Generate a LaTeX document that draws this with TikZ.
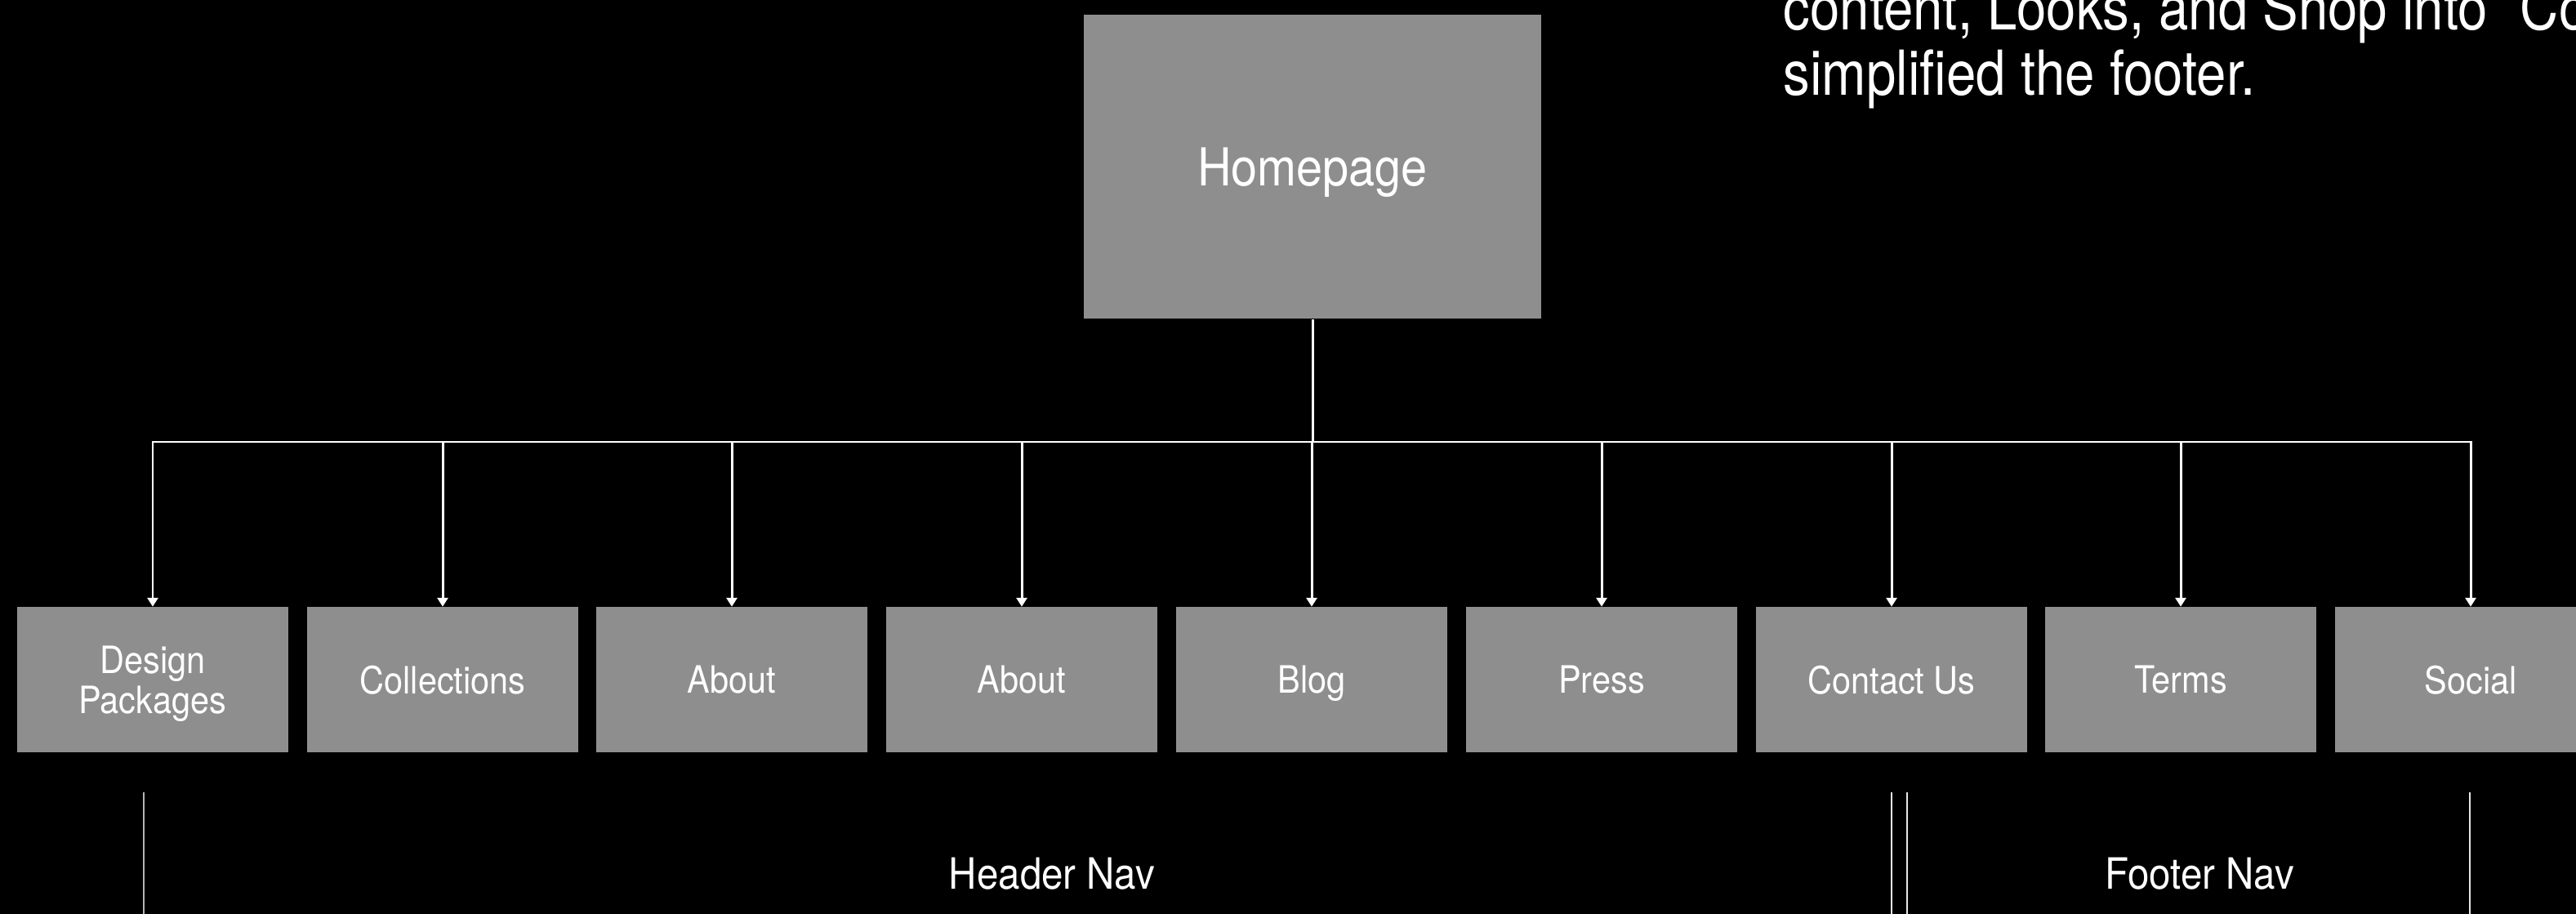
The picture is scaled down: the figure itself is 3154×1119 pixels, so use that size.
\documentclass[tikz,border=0pt]{standalone}
\usepackage{fontspec}
\setmainfont{TeX Gyre Heros}[FakeStretch=0.9]
\newfontfamily\notefont{TeX Gyre Heros}[FakeStretch=0.86]
\usetikzlibrary{arrows.meta}

\definecolor{pagegray}{HTML}{8E8E8E}
\definecolor{wireline}{HTML}{E6E6E6}
\definecolor{dimline}{HTML}{B4B4B4}

\begin{document}
\begin{tikzpicture}[x=0.01cm, y=-0.01cm,
  home node/.style={fill=pagegray, text=white, minimum width=5.59cm, minimum height=3.72cm, inner sep=0pt, text depth=0pt, font=\fontsize{18.2}{21}\selectfont},
  page node/.style={fill=pagegray, text=white, minimum width=3.32cm, minimum height=1.77cm, inner sep=0pt, align=center, text depth=0pt, font=\fontsize{13.1}{14}\selectfont},
  label node/.style={text=white, inner sep=0pt, anchor=base, font=\fontsize{15}{18}\selectfont},
  note node/.style={text=white, inner sep=0pt, anchor=base west, font=\notefont\fontsize{21.6}{26}\selectfont},
  wire/.style={white, line width=0.85pt},
  link/.style={wire, -{Triangle[width=3.7pt, length=3.1pt]}},
  bracket/.style={wireline, line width=0.7pt}]

  \fill[black] (0,0) rectangle (3154,1119);
  \useasboundingbox (0,0) rectangle (3154,1119);

  \node[note node] (note1) at (2183,37) {content, Looks, and Shop into “Co};
  \node[note node] (note2) at (2183,117) {simplified the footer.};

  \node[home node] (home) at (1607,204) {Homepage};

  \node[page node] (design) at (187,832) {Design\\Packages};
  \node[page node] (collections) at (542,832) {Collections};
  \node[page node] (about1) at (896,832) {About};
  \node[page node] (about2) at (1251,832) {About};
  \node[page node] (blog) at (1606,832) {Blog};
  \node[page node] (press) at (1961,832) {Press};
  \node[page node] (contact) at (2316,832) {Contact Us};
  \node[page node] (terms) at (2670,832) {Terms};
  \node[page node] (social) at (3025,832) {Social};

  \coordinate (bus) at (1607,541);
  \draw[wire] (home) -- (home |- bus);
  \draw[wire, line cap=rect] (design |- bus) -- (social |- bus);
  \path
   (design |- bus) edge[link] (design)
   (collections |- bus) edge[link] (collections)
   (about1 |- bus) edge[link] (about1)
   (about2 |- bus) edge[link] (about2)
   (blog |- bus) edge[link] (blog)
   (press |- bus) edge[link] (press)
   (contact |- bus) edge[link] (contact)
   (terms |- bus) edge[link] (terms)
   (social |- bus) edge[link] (social);

  % header / footer brackets
  \coordinate (hdr left) at (176,970);
  \coordinate (hdr right) at (2316,970);
  \coordinate (ftr left) at (2335,970);
  \coordinate (ftr right) at (3024,970);
  \draw[bracket, dimline] (hdr left) -- ++(0,149);
  \draw[bracket] (hdr right) -- ++(0,149);
  \draw[bracket] (ftr left) -- ++(0,149);
  \draw[bracket] (ftr right) -- ++(0,149);

  \node[label node] (header) at (1288,1088) {Header Nav};
  \node[label node] (footer) at (2693,1088) {Footer Nav};
\end{tikzpicture}
\end{document}
